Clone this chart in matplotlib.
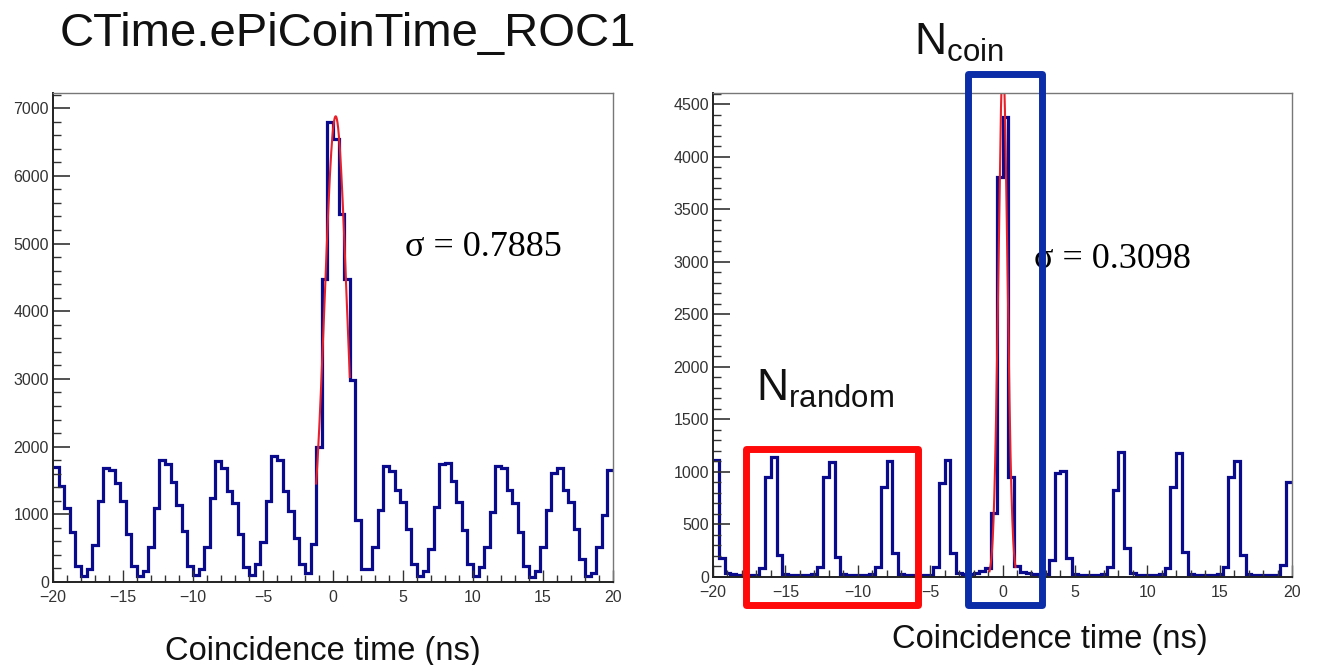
import numpy as np
import matplotlib
matplotlib.use('Agg')
import matplotlib.pyplot as plt
from matplotlib.patches import Rectangle
from matplotlib.ticker import MultipleLocator

plt.rcParams['font.family'] = ['Liberation Sans', 'DejaVu Sans']
plt.rcParams['mathtext.fontset'] = 'custom'
plt.rcParams['mathtext.rm'] = 'Liberation Sans'

# binning: 100 bins of 0.4 ns between -20 and 20
t_min, t_max, n_bins = -20, 20, 100

# left: CTime.ePiCoinTime_ROC1, no cuts
counts_roc1 = [
    1700, 1420, 1090, 740, 240, 90, 190, 540, 1190, 1690,
    1650, 1460, 1190, 710, 240, 90, 165, 515, 1100, 1800,
    1740, 1470, 1140, 760, 240, 100, 190, 520, 1240, 1790,
    1680, 1340, 1160, 710, 215, 100, 265, 590, 1190, 1860,
    1800, 1350, 1050, 650, 260, 130, 560, 1990, 4480, 6800,
    6550, 5430, 4480, 2985, 913, 190, 190, 514, 1063, 1711,
    1636, 1362, 1188, 788, 264, 90, 165, 489, 1113, 1736,
    1760, 1487, 1188, 763, 264, 90, 215, 514, 1038, 1711,
    1686, 1362, 1163, 738, 240, 80, 165, 514, 1063, 1612,
    1686, 1362, 1188, 788, 339, 90, 140, 514, 988, 1661,
]

# right: after cuts
counts_cut = [
    1113, 178, 40, 25, 20, 18, 22, 15, 83, 948,
    1139, 209, 30, 20, 22, 18, 20, 25, 98, 948,
    1097, 193, 28, 18, 20, 22, 18, 25, 98, 860,
    1100, 230, 30, 20, 18, 22, 15, 20, 98, 890,
    1110, 225, 35, 25, 30, 40, 55, 90, 610, 3810,
    4375, 955, 100, 50, 40, 30, 25, 28, 162, 986,
    1011, 178, 30, 20, 18, 20, 22, 28, 98, 828,
    1192, 273, 35, 20, 22, 18, 20, 25, 83, 859,
    1177, 241, 30, 20, 18, 22, 18, 25, 98, 954,
    1107, 209, 28, 20, 18, 22, 15, 20, 114, 907,
]

# gaussian fits: amplitude, mean, sigma, fit range
fit_left = (6880, 0.19, 0.7885, -1.2, 1.2)
fit_right = (4900, 0.03, 0.3098, -0.9, 0.9)

ymax_left = 7224
ymax_right = 4605

W, H = 1317, 665
hist_color = '#0a0a8c'
fit_color = '#e8202a'


def px(x, y):
    return x / W, 1 - y / H


def draw_panel(ax, counts, fit, ymax, ymajor, yminor, sigma_txt, sigma_pos):
    edges = np.linspace(t_min, t_max, n_bins + 1)
    ax.stairs(counts, edges, baseline=None, color=hist_color, linewidth=2.3)
    amp, mu, sig, lo, hi = fit
    xf = np.linspace(lo, hi, 200)
    ax.plot(xf, amp * np.exp(-0.5 * ((xf - mu) / sig) ** 2), color=fit_color, linewidth=1.5)
    ax.set_xlim(t_min, t_max)
    ax.set_ylim(0, ymax)
    ax.xaxis.set_major_locator(MultipleLocator(5))
    ax.xaxis.set_minor_locator(MultipleLocator(1))
    ax.yaxis.set_major_locator(MultipleLocator(ymajor))
    ax.yaxis.set_minor_locator(MultipleLocator(yminor))
    ax.tick_params(axis='both', which='both', direction='in', colors='#333333',
                   labelsize=11.5, top=False, right=False)
    ax.tick_params(axis='y', which='major', length=12, width=1.2, pad=3)
    ax.tick_params(axis='y', which='minor', length=6, width=1.0)
    ax.tick_params(axis='x', which='major', length=9, width=1.0, pad=6)
    ax.tick_params(axis='x', which='minor', length=5, width=1.0)
    ax.xaxis.set_major_formatter(lambda v, p: f'{v:g}'.replace('-', '\u2212'))
    for s in ['top', 'right']:
        ax.spines[s].set_color('#777777')
        ax.spines[s].set_linewidth(1.0)
    for s in ['left', 'bottom']:
        ax.spines[s].set_color('#222222')
        ax.spines[s].set_linewidth(1.4)
    ax.text(*px(*sigma_pos), sigma_txt, transform=ax.figure.transFigure,
            family=['Liberation Serif', 'DejaVu Serif'], fontsize=26, va='baseline')


fig = plt.figure(figsize=(W / 100, H / 100), dpi=100)

ax1 = fig.add_axes([53 / W, (H - 582) / H, 560 / W, 489 / H])
draw_panel(ax1, counts_roc1, fit_left, ymax_left, 1000, 200,
           '\u03c3 = 0.7885', (405, 256))

ax2 = fig.add_axes([713 / W, (H - 577) / H, 579 / W, 484 / H])
draw_panel(ax2, counts_cut, fit_right, ymax_right, 500, 100,
           '\u03c3 = 0.3098', (1034, 268))

# titles and axis labels
fig.text(*px(60, 46), 'CTime.ePiCoinTime_ROC1', fontsize=34, va='baseline', color='#111111')
fig.text(*px(323, 660), 'Coincidence time (ns)', fontsize=23.5, ha='center', va='baseline', color='#111111')
fig.text(*px(1050, 648), 'Coincidence time (ns)', fontsize=23.5, ha='center', va='baseline', color='#111111')
fig.text(*px(914, 55), r'N$_{\mathregular{coin}}$', fontsize=32, va='baseline', color='#111111')
fig.text(*px(756, 401), r'N$_{\mathregular{random}}$', fontsize=32, va='baseline', color='#111111')

# selection windows
x0, y0 = px(745.5, 604.5)
x1, y1 = px(917.5, 448.5)
fig.add_artist(Rectangle((x0, y0), x1 - x0, y1 - y0, transform=fig.transFigure,
                         fill=False, edgecolor='#ff0a0a', linewidth=5, joinstyle='round', zorder=5))
x0, y0 = px(967.5, 604.5)
x1, y1 = px(1041.5, 73.5)
fig.add_artist(Rectangle((x0, y0), x1 - x0, y1 - y0, transform=fig.transFigure,
                         fill=False, edgecolor='#0b2ea8', linewidth=5, joinstyle='round', zorder=5))

fig.savefig('out.png', dpi=100)
